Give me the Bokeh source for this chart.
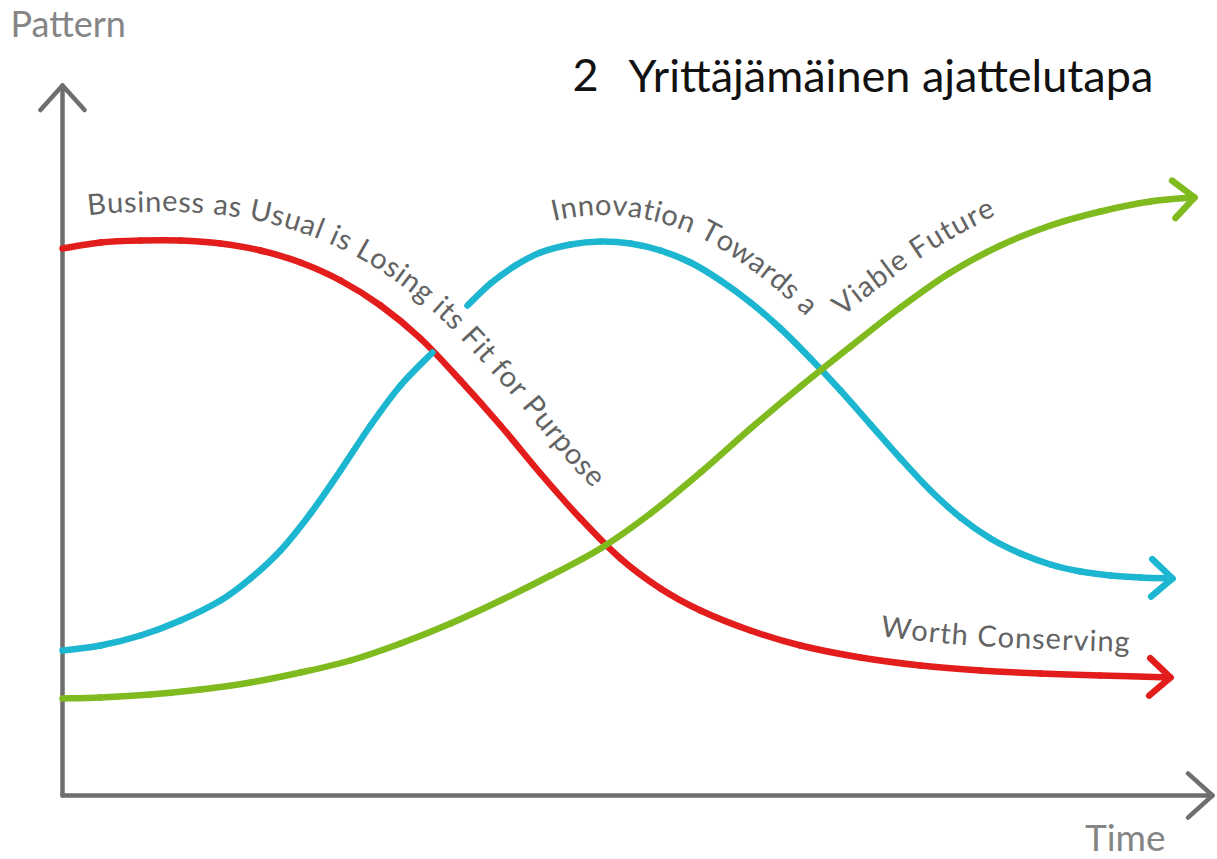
import numpy as np
from bokeh.plotting import figure
from bokeh.models import Range1d
from bokeh.core.properties import value
from bokeh.embed import file_html
from bokeh.resources import INLINE

# ---------------- data (time, pattern) ----------------
red_t = [0, 38, 78, 118, 158, 198, 238, 278, 318, 358, 398, 438, 478, 518, 558, 598, 638, 688, 738, 798, 858, 918, 978, 1038, 1108]
red_v = [547, 553, 555, 555, 552, 545, 533, 515, 490, 457, 415, 370, 322, 277, 237, 207, 185, 165, 150, 138, 130, 125, 122, 120, 118]

blue_low_t = [0, 38, 78, 118, 158, 188, 218, 248, 278, 308, 338, 370]
blue_low_v = [145, 150, 160, 175, 195, 217, 245, 282, 325, 370, 410, 443]

blue_up_t = [405, 428, 453, 478, 508, 538, 568, 598, 628, 658, 688, 718, 748, 778, 808, 838, 868, 898, 928, 958, 988, 1018, 1048, 1078, 1110]
blue_up_v = [490, 512, 530, 543, 551, 554, 552, 545, 533, 515, 493, 467, 437, 405, 371, 337, 305, 278, 257, 242, 231, 224, 220, 218, 217]

green_t = [0, 38, 88, 138, 188, 238, 288, 338, 388, 438, 488, 538, 588, 638, 688, 738, 788, 838, 888, 938, 988, 1038, 1088, 1132]
green_v = [97, 98, 101, 106, 113, 123, 135, 152, 172, 195, 220, 247, 282, 323, 367, 409, 449, 488, 523, 550, 570, 584, 594, 598]

title_num = "2"
title_text = "Yrittäjämäinen ajattelutapa"
y_label = "Pattern"
x_label = "Time"
red_label = "Business as Usual is Losing its Fit for Purpose"
blue_label = "Innovation Towards a"
green_label = "Viable Future"
red_end_label = "Worth Conserving"

# ---------------- style ----------------
RED = "#e21d1c"
BLUE = "#1db6d0"
GREEN = "#7fba1e"
AXIS = "#6e6e6e"
LABEL = "#636363"
FONT = "Lato"
BASE_FIX = 0.41   # baseline correction (fraction of font size) for the svg text backend

W, H = 1217, 859
p = figure(width=W, height=H, output_backend="svg", toolbar_location=None,
           x_range=Range1d(-62, 1155), y_range=Range1d(-64, 795),
           min_border=0, outline_line_color=None, background_fill_color="white")
p.axis.visible = False
p.xgrid.visible = False
p.ygrid.visible = False


def chevron(tip_x, tip_y, dx, dy, length, half_angle_deg):
    ang = np.arctan2(dy, dx)
    back = ang + np.pi
    ha = np.radians(half_angle_deg)
    xs = [tip_x + length * np.cos(back + ha), tip_x, tip_x + length * np.cos(back - ha)]
    ys = [tip_y + length * np.sin(back + ha), tip_y, tip_y + length * np.sin(back - ha)]
    return xs, ys


def cr_controls(t, v):
    """Catmull-Rom control points so the read points are joined by a smooth Bezier path."""
    P = np.column_stack([t, v]).astype(float)
    Pp = np.vstack([P[0], P, P[-1]])
    c0 = P[:-1] + (Pp[2:-1] - Pp[:-3]) / 6.0
    c1 = P[1:] - (Pp[3:] - Pp[1:-2]) / 6.0
    return P, c0, c1


def smooth_samples(t, v, n=20):
    P, c0, c1 = cr_controls(t, v)
    u = np.linspace(0, 1, n, endpoint=False)[:, None]
    pts = []
    for i in range(len(P) - 1):
        a, b, c, d = P[i], c0[i], c1[i], P[i + 1]
        seg = ((1 - u) ** 3) * a + 3 * ((1 - u) ** 2) * u * b + 3 * (1 - u) * u ** 2 * c + u ** 3 * d
        pts.append(seg)
    pts.append(P[-1][None, :])
    pts = np.vstack(pts)
    return pts[:, 0], pts[:, 1]


# axes
Y_TOP, X_END = 710, 1150
p.line([0, 0], [0, Y_TOP], line_color=AXIS, line_width=4.5, line_cap="round")
p.line([0, X_END], [0, 0], line_color=AXIS, line_width=4.5, line_cap="round")
cx, cy = chevron(0, Y_TOP, 0, 1, 33, 42)
p.line(cx, cy, line_color=AXIS, line_width=4.5, line_cap="round", line_join="round")
cx, cy = chevron(X_END, 0, 1, 0, 33, 42)
p.line(cx, cy, line_color=AXIS, line_width=4.5, line_cap="round", line_join="round")


def curve(t, v, color, arrow=True):
    P, c0, c1 = cr_controls(t, v)
    p.bezier(x0=P[:-1, 0], y0=P[:-1, 1], x1=P[1:, 0], y1=P[1:, 1],
             cx0=c0[:, 0], cy0=c0[:, 1], cx1=c1[:, 0], cy1=c1[:, 1],
             line_color=color, line_width=6.5, line_cap="round")
    if arrow:
        cx, cy = chevron(t[-1], v[-1], t[-1] - c1[-1, 0], v[-1] - c1[-1, 1], 28, 42)
        p.line(cx, cy, line_color=color, line_width=6.5, line_cap="round", line_join="round")


curve(red_t, red_v, RED)
curve(blue_low_t, blue_low_v, BLUE, arrow=False)
curve(blue_up_t, blue_up_v, BLUE)
curve(green_t, green_v, GREEN)

# ---------------- text along curves ----------------
WID = {
    " ": 0.26, "a": 0.49, "b": 0.55, "c": 0.46, "d": 0.55, "e": 0.52, "f": 0.32, "g": 0.50,
    "h": 0.55, "i": 0.24, "j": 0.24, "k": 0.50, "l": 0.24, "m": 0.82, "n": 0.55, "o": 0.56,
    "p": 0.55, "q": 0.55, "r": 0.37, "s": 0.42, "t": 0.35, "u": 0.55, "v": 0.50, "w": 0.75,
    "x": 0.49, "y": 0.50, "z": 0.45, "B": 0.63, "C": 0.67, "F": 0.55, "I": 0.29, "L": 0.49,
    "P": 0.60, "T": 0.58, "U": 0.70, "V": 0.68, "W": 1.00,
}


def text_on_curve(label, t, v, offset, start, size, track):
    st, sv = smooth_samples(t, v)
    tx = np.gradient(st)
    ty = np.gradient(sv)
    n = np.hypot(tx, ty)
    nx, ny = -ty / n, tx / n
    bx, by = st + offset * nx, sv + offset * ny          # baseline path
    s = np.concatenate([[0], np.cumsum(np.hypot(np.diff(bx), np.diff(by)))])
    s0 = np.interp(start, bx, s)
    fix = BASE_FIX * size
    xs, ys, angs, chars = [], [], [], []
    pos = s0
    for ch in label:
        w = WID.get(ch, 0.5) * size
        sc = pos + w / 2
        x = np.interp(sc, s, bx)
        y = np.interp(sc, s, by)
        x1, y1 = np.interp(sc - 5, s, bx), np.interp(sc - 5, s, by)
        x2, y2 = np.interp(sc + 5, s, bx), np.interp(sc + 5, s, by)
        a = np.arctan2(y2 - y1, x2 - x1)
        if ch != " ":
            xs.append(x - fix * np.sin(a))
            ys.append(y + fix * np.cos(a))
            angs.append(a)
            chars.append(ch)
        pos += w + track
    p.text(x=xs, y=ys, text=chars, angle=angs, text_align="center",
           text_baseline="alphabetic", text_font=value(FONT),
           text_font_size=f"{size}px", text_color=LABEL)


text_on_curve(red_label, red_t, red_v, 28, 26, 29, 0.9)
text_on_curve(blue_label, blue_up_t, blue_up_v, 26, 491, 29, 0.6)
text_on_curve(green_label, green_t, green_v, 28, 780, 29, 1.2)
text_on_curve(red_end_label, red_t, red_v, 24, 818, 29, 1.2)


# ---------------- plain texts ----------------
def label(x, y, txt, size, color, align="left"):
    p.text(x=[x], y=[y + BASE_FIX * size], text=[txt], text_font=value(FONT),
           text_font_size=f"{size}px", text_color=color, text_align=align,
           text_baseline="alphabetic")


label(-52, 758, y_label, 36, "#858585")
label(1103, -56, x_label, 37, "#858585", align="right")
label(510, 702, title_num, 45, "#111111")
label(566, 702, title_text, 45, "#111111")

open("out.html", "w").write(file_html(p, INLINE))
